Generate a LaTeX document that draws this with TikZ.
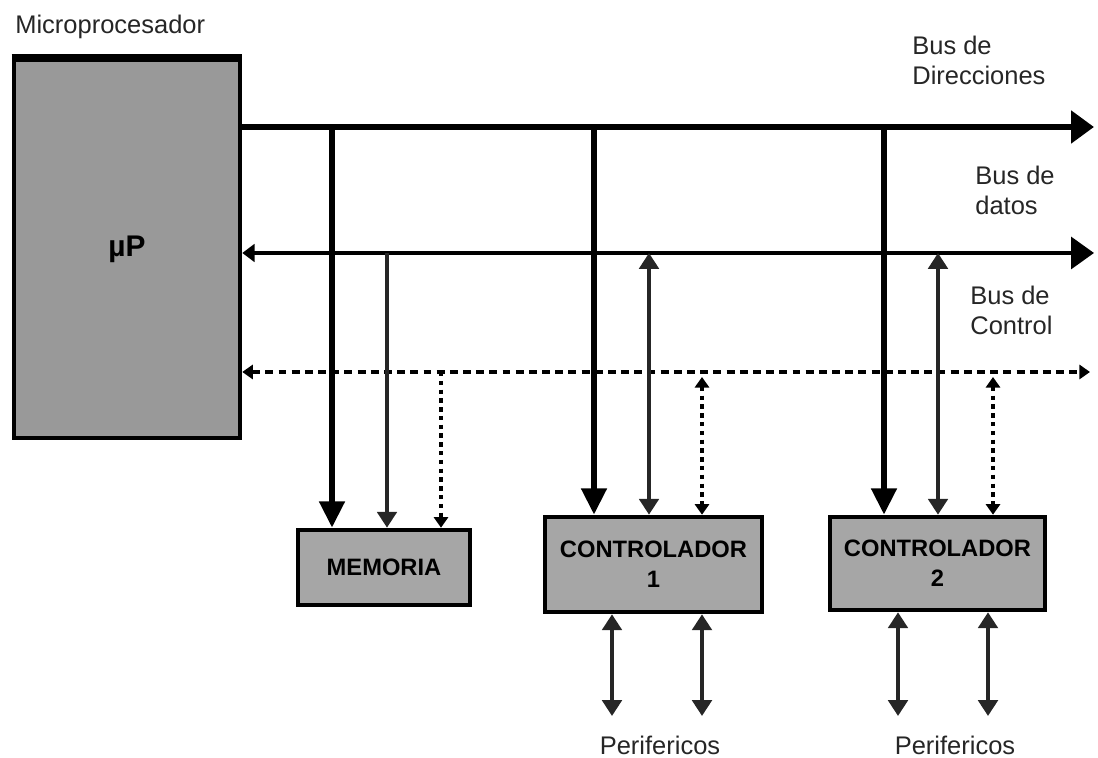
\documentclass[tikz,border=0pt]{standalone}
\usepackage{fontspec}
\setmainfont{Liberation Sans}
\usetikzlibrary{arrows.meta}

\tikzset{
  block/.style={draw, line width=2.6pt, fill=black!35, align=center, inner sep=0pt,
                font=\fontsize{13.5}{17}\selectfont\bfseries},
  txt/.style={font=\fontsize{14.5}{17}\selectfont, text=black!85, align=left, inner sep=0pt},
  addr/.style={line width=3.4pt},
  datos/.style={line width=2.2pt, draw=black!85},
  ctrl/.style={line width=2pt, dash pattern=on 4.5pt off 3pt},
  ctrlv/.style={line width=2pt, dash pattern=on 2.5pt off 2.5pt},
  bigdown/.style={-{Triangle[width=14pt,length=15pt]}},
  busend/.style={-{Triangle[width=18pt,length=13pt]}},
  midtip/.style={{Triangle[width=11pt,length=9pt]}-{Triangle[width=11pt,length=9pt]}},
  middown/.style={-{Triangle[width=11pt,length=9pt]}},
  smalltip/.style={{Triangle[width=8pt,length=6pt]}-{Triangle[width=8pt,length=6pt]}},
  smalldown/.style={-{Triangle[width=8pt,length=6pt]}}
}

\begin{document}
\begin{tikzpicture}
\useasboundingbox (0,0) rectangle (21.96,15.16);

\begin{scope}[every node/.style={block}]
    \node[minimum width=4.52cm, minimum height=7.56cm, fill=black!40,
          font=\fontsize{17}{20}\selectfont\bfseries] (up) at (2.54,10.18) {µP};
    \node[minimum width=3.44cm, minimum height=1.5cm] (mem) at (7.68,3.81) {MEMORIA};
    \node[minimum width=4.34cm, minimum height=1.9cm] (c1) at (13.07,3.87) {CONTROLADOR\\1};
    \node[minimum width=4.3cm, minimum height=1.86cm] (c2) at (18.75,3.89) {CONTROLADOR\\2};
\end{scope}
\draw[line width=4.5pt] (up.north west) -- (up.north east);

\begin{scope}[every node/.style={txt}]
    \node[anchor=south west] (tmicro) at (0.3,14.38) {Microprocesador};
    \node[anchor=west] (tdir) at (18.24,13.96) {Bus de\\Direcciones};
    \node[anchor=west] (tdat) at (19.5,11.36) {Bus de\\datos};
    \node[anchor=west] (tctl) at (19.4,8.96) {Bus de\\Control};
    \node (tper1) at (13.2,0.26) {Perifericos};
    \node (tper2) at (19.1,0.26) {Perifericos};
\end{scope}

% buses
\coordinate (abe) at (21.88,12.62);
\coordinate (dbe) at (21.88,10.10);
\coordinate (cbe) at (21.8,7.72);
\draw[addr, busend] (up.east |- abe) -- (abe);
\draw[datos, draw=black, {Triangle[width=10pt,length=7pt]}-{Triangle[width=18pt,length=13pt]}] (up.east |- dbe) -- (dbe);
\draw[ctrl, smalltip] (up.east |- cbe) -- (cbe);

% memoria
\coordinate (m1) at (6.64,12.62);
\coordinate (m2) at (7.74,10.10);
\coordinate (m3) at (8.82,7.72);
\draw[addr, bigdown] (m1) -- (m1 |- mem.north);
\draw[datos, middown] (m2) -- (m2 |- mem.north);
\draw[ctrlv, smalldown] (m3) -- (m3 |- mem.north);

% controladores
\foreach \c/\xa/\xd/\xc in {c1/11.88/12.98/14.04, c2/17.68/18.76/19.86}{
    \coordinate (a\c) at (\xa,12.62);
    \coordinate (d\c) at (\xd,10.10);
    \coordinate (k\c) at (\xc,7.62);
    \draw[addr, bigdown] (a\c) -- (a\c |- \c.north);
    \draw[datos, midtip] (d\c) -- (d\c |- \c.north);
    \draw[ctrlv, smalltip] (k\c) -- (k\c |- \c.north);
}

% perifericos
\foreach \c/\xa/\xb in {c1/12.24/14.04, c2/17.96/19.76}{
    \coordinate (p\c) at (\xa,0.84);
    \coordinate (q\c) at (\xb,0.84);
    \draw[datos, midtip] (p\c |- \c.south) -- (p\c);
    \draw[datos, line width=2.8pt, midtip] (q\c |- \c.south) -- (q\c);
}
\end{tikzpicture}
\end{document}
